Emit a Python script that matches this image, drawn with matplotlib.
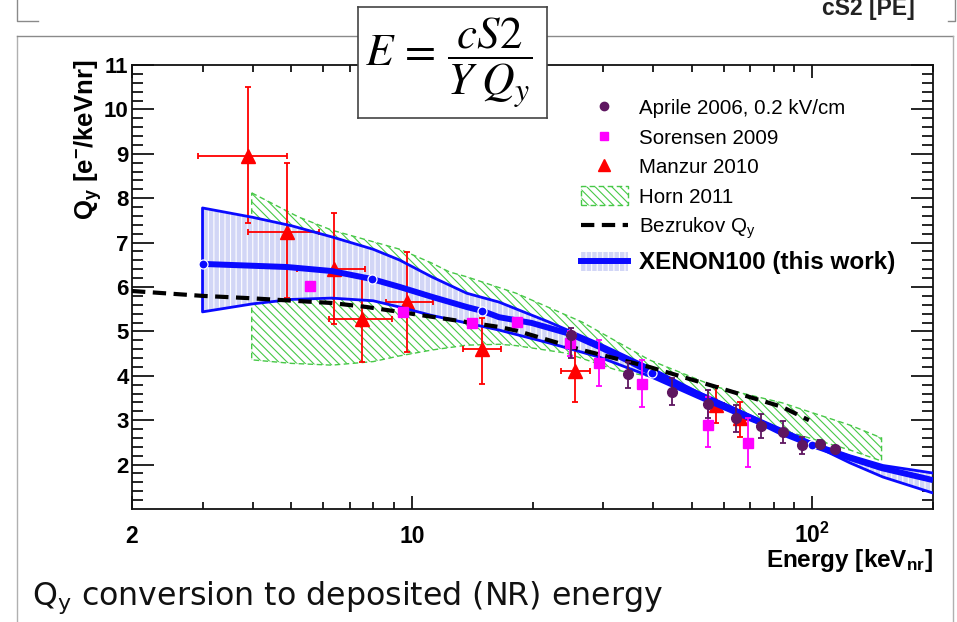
import numpy as np
import matplotlib
matplotlib.use("Agg")
import matplotlib.pyplot as plt
from matplotlib.lines import Line2D
from matplotlib.patches import Patch
from matplotlib.ticker import FixedLocator, NullFormatter

plt.rcParams['font.family'] = ['Liberation Sans', 'DejaVu Sans']
plt.rcParams['mathtext.fontset'] = 'custom'
plt.rcParams['mathtext.rm'] = 'Liberation Sans'
plt.rcParams['mathtext.bf'] = 'Liberation Sans:bold'
plt.rcParams['mathtext.it'] = 'Liberation Sans:italic'
plt.rcParams['hatch.linewidth'] = 0.8

# ---------------- data ----------------
# Aprile 2006, 0.2 kV/cm
aprile_E = [24.9, 34.7, 44.7, 54.7, 64.6, 74.6, 84.6, 94.4, 104.7, 114.0]
aprile_Q = [4.92, 4.04, 3.64, 3.36, 3.05, 2.87, 2.73, 2.44, 2.46, 2.35]
aprile_lo = [4.40, 3.72, 3.34, 3.05, 2.73, 2.60, 2.49, 2.24, 2.38, 2.29]
aprile_hi = [5.08, 4.31, 3.95, 3.68, 3.34, 3.14, 2.98, 2.62, 2.55, 2.41]

# Sorensen 2009
sor_E = [5.56, 9.48, 14.1, 18.3, 24.8, 29.3, 37.6, 54.7, 69.2]
sor_Q = [6.02, 5.44, 5.19, 5.21, 4.74, 4.29, 3.82, 2.89, 2.49]
sor_lo = [6.02, 5.44, 5.19, 5.21, 4.45, 3.77, 3.30, 2.40, 1.95]
sor_hi = [6.02, 5.44, 5.19, 5.21, 5.00, 4.81, 4.36, 3.52, 3.05]

# Manzur 2010
man_E = [3.89, 4.87, 6.38, 7.51, 9.70, 15.0, 25.5, 57.5, 66.1]
man_Q = [8.95, 7.24, 6.41, 5.28, 5.66, 4.60, 4.11, 3.34, 3.05]
man_Elo = [2.93, 3.89, 5.15, 6.22, 8.60, 13.4, 23.6, 54.4, 64.6]
man_Ehi = [4.87, 5.86, 7.62, 8.90, 11.3, 16.7, 27.9, 60.3, 68.4]
man_lo = [7.44, 5.75, 5.17, 4.31, 4.54, 3.82, 3.41, 2.94, 2.62]
man_hi = [10.50, 8.79, 7.67, 6.25, 6.78, 5.30, 4.83, 3.77, 3.41]

# Horn 2011 band
horn_up_E = [3.98, 5.2, 6.31, 9.33, 11.2, 12.4, 13.7, 18.2, 26.6, 39.1, 57.5, 84.1, 124.0, 148.8]
horn_up_Q = [8.12, 7.58, 7.28, 6.85, 6.54, 6.34, 6.23, 5.86, 5.21, 4.36, 3.75, 3.39, 2.89, 2.60]
horn_lo_E = [3.98, 5.0, 6.31, 8.0, 9.33, 11.2, 13.7, 16.5, 18.2, 24.3, 32.4, 43.2, 57.5, 84.1, 124.0, 148.8]
horn_lo_Q = [4.36, 4.28, 4.24, 4.32, 4.45, 4.58, 4.69, 4.71, 4.68, 4.51, 4.13, 3.91, 3.39, 2.78, 2.33, 2.08]

# Bezrukov Qy
bez_E = [2.0, 3.0, 3.9, 6.3, 7.7, 9.3, 11.2, 13.7, 16.5, 18.2, 26.6, 39.1, 57.5, 84.0, 98.0]
bez_Q = [5.91, 5.80, 5.75, 5.64, 5.55, 5.44, 5.33, 5.21, 5.10, 5.02, 4.58, 4.20, 3.75, 3.30, 3.00]

# XENON100 (this work)
xe_E = [3.0, 4.88, 6.3, 7.94, 9.33, 11.2, 13.7, 15.0, 16.5, 19.9, 24.9, 29.4, 34.3, 39.8,
        47.3, 57.5, 69.7, 84.1, 100.0, 124.0, 149.0, 200.0]
xe_Q = [6.52, 6.45, 6.36, 6.18, 6.00, 5.78, 5.55, 5.46, 5.32, 5.19, 4.94, 4.65, 4.36, 4.06,
        3.75, 3.41, 3.07, 2.71, 2.44, 2.15, 1.92, 1.65]
xe_knot_E = [3.0, 7.94, 15.0, 24.9, 39.8, 100.0]
xe_knot_Q = [6.52, 6.18, 5.46, 4.94, 4.06, 2.44]
xe_band_E = [3.0, 4.0, 5.0, 6.3, 8.0, 9.3, 11.2, 13.7, 16.5, 22.0, 29.4, 39.0, 52.0, 70.0,
             100.0, 124.0, 150.0, 200.0]
xe_band_hi = [7.78, 7.57, 7.38, 7.13, 6.85, 6.61, 6.23, 5.86, 5.66, 5.21, 4.72, 4.20, 3.62,
              3.10, 2.49, 2.20, 1.98, 1.81]
xe_band_lo = [5.44, 5.62, 5.72, 5.75, 5.69, 5.55, 5.36, 5.19, 5.03, 4.74, 4.42, 4.00, 3.50,
              3.00, 2.45, 2.04, 1.72, 1.36]

x_ticks = [2, 10, 100]
x_ticklabels = ['2', '10', r'$\mathbf{10^{2}}$']
y_ticks = [2, 3, 4, 5, 6, 7, 8, 9, 10, 11]

labels = ['Aprile 2006, 0.2 kV/cm', 'Sorensen 2009', 'Manzur 2010', 'Horn 2011',
          r'Bezrukov Q$_\mathregular{y}$', 'XENON100 (this work)']

# ---------------- colours ----------------
C_APR = '#5e1660'
C_SOR = '#ff00ff'
C_MAN = '#ff0000'
C_HORN = '#47c847'
C_XE = '#0a0aff'
C_BAND = '#d2d6f6'

W, H = 957, 622
fig = plt.figure(figsize=(W / 100, H / 100), dpi=100)


def fx(px):
    return px / W


def fy(py):
    return 1 - py / H


# slide frames
frame_col = '#8a8a8a'
for xs, ys, c in [([17, 17, 38], [0, 21, 21], frame_col),
                  ([948, 955, 955], [21, 21, 0], frame_col),
                  ([17, 17], [622, 36], '#b0b0b0'),
                  ([17, 953], [36, 36], frame_col),
                  ([953, 953], [36, 622], '#b0b0b0')]:
    fig.add_artist(Line2D([fx(v) for v in xs], [fy(v) for v in ys], color=c, lw=1.0,
                          transform=fig.transFigure))

fig.text(fx(915), fy(15.5), 'cS2 [PE]', ha='right', va='baseline', fontsize=16.5,
         fontweight='bold', color='#222222')

ax = fig.add_axes([fx(132), fy(509), (933 - 132) / W, (509 - 65) / H])
ax.set_xscale('log')
ax.set_xlim(2, 200)
ax.set_ylim(1, 11)

# Horn 2011
horn_x = list(horn_up_E) + list(horn_lo_E[::-1])
horn_y = list(horn_up_Q) + list(horn_lo_Q[::-1])
ax.fill(horn_x, horn_y, facecolor='none', edgecolor=C_HORN, hatch='\\\\\\\\', lw=1.0,
        ls=(0, (4, 2.5)), zorder=1)

# XENON100 band
ax.fill_between(xe_band_E, xe_band_lo, xe_band_hi, facecolor=C_BAND, edgecolor='none', zorder=2)
ax.fill_between(xe_band_E, xe_band_lo, xe_band_hi, facecolor='none', edgecolor='white',
                hatch='|||', lw=0, zorder=2.1)

# Manzur
man_E_a = np.array(man_E)
man_Q_a = np.array(man_Q)
ax.errorbar(man_E_a, man_Q_a,
            xerr=[man_E_a - np.array(man_Elo), np.array(man_Ehi) - man_E_a],
            yerr=[man_Q_a - np.array(man_lo), np.array(man_hi) - man_Q_a],
            fmt='^', color=C_MAN, ms=10, capsize=2.5, elinewidth=1.3, capthick=1.3, zorder=3)

# XENON100 lines
band_x = list(xe_band_E[::-1]) + list(xe_band_E)
band_y = list(xe_band_lo[::-1]) + list(xe_band_hi)
ax.plot(band_x, band_y, color=C_XE, lw=2.0, zorder=4)
ax.plot(xe_E, xe_Q, color=C_XE, lw=4.3, zorder=4.1, solid_capstyle='butt')
ax.plot(xe_knot_E, xe_knot_Q, 'o', color=C_XE, ms=6.5, mec='white', mew=0.9, zorder=4.2)

# Bezrukov
ax.plot(bez_E, bez_Q, color='black', lw=3.0, ls=(0, (3.2, 1.8)), zorder=5)

# Sorensen
sor_E_a = np.array(sor_E)
sor_Q_a = np.array(sor_Q)
ax.errorbar(sor_E_a, sor_Q_a, yerr=[sor_Q_a - np.array(sor_lo), np.array(sor_hi) - sor_Q_a],
            fmt='s', color=C_SOR, ms=7, capsize=2.0, elinewidth=1.3, capthick=1.3, zorder=6)

# Aprile
apr_E_a = np.array(aprile_E)
apr_Q_a = np.array(aprile_Q)
ax.errorbar(apr_E_a, apr_Q_a, yerr=[apr_Q_a - np.array(aprile_lo), np.array(aprile_hi) - apr_Q_a],
            fmt='o', color=C_APR, ms=7, capsize=2.0, elinewidth=1.3, capthick=1.3, zorder=7)

# axes styling
for s in ax.spines.values():
    s.set_linewidth(1.3)
    s.set_color('#111111')
ax.xaxis.set_major_locator(FixedLocator(x_ticks))
ax.set_xticklabels(x_ticklabels)
minor_x = [v * d for d in (1, 10) for v in range(2, 10)] + [200]
ax.xaxis.set_minor_locator(FixedLocator(minor_x))
ax.xaxis.set_minor_formatter(NullFormatter())
ax.set_yticks(y_ticks)
ax.yaxis.set_minor_locator(FixedLocator(list(np.round(np.arange(1.2, 11.0, 0.2), 1))))
ax.tick_params(axis='x', which='major', direction='in', length=9.5, width=1.2, top=True,
               pad=24.5, labelsize=16.5)
ax.tick_params(axis='x', which='minor', direction='in', length=5, width=1.2, top=True)
ax.tick_params(axis='y', which='major', direction='in', length=16, width=1.2, right=True,
               pad=2.5, labelsize=16)
ax.tick_params(axis='y', which='minor', direction='in', length=8, width=1.2, right=True)
for t in ax.get_xticklabels() + ax.get_yticklabels():
    t.set_fontweight('bold')
for t in ax.get_xticklabels():
    t.set_verticalalignment('baseline')

fig.text(fx(88), fy(60), r'$\mathbf{Q_{y}\ [e^{-}/keVnr]}$', rotation=90, ha='center',
         va='top', fontsize=18.5)
fig.text(fx(933), fy(560), r'$\mathbf{Energy\ [keV_{nr}]}$', ha='right', va='center',
         fontsize=17.5)

# legend
h_apr = Line2D([], [], marker='o', color=C_APR, ls='none', ms=6)
h_sor = Line2D([], [], marker='s', color=C_SOR, ls='none', ms=6)
h_man = Line2D([], [], marker='^', color=C_MAN, ls='none', ms=9)
h_horn = Patch(facecolor='none', edgecolor=C_HORN, hatch='\\\\\\\\', ls=(0, (4, 2.5)), lw=1.0)
h_bez = Line2D([], [], color='black', lw=3.0, ls=(0, (3.2, 1.8)))
h_xe = (Patch(facecolor=C_BAND, edgecolor='white', hatch='|||', lw=0),
        Line2D([], [], color=C_XE, lw=4.3))
leg = ax.legend([h_apr, h_sor, h_man, h_horn, h_bez, h_xe], labels,
                loc='upper left', bbox_to_anchor=((581 - 132) / 801, (509 - 98) / 444),
                frameon=False, fontsize=14.8, handlelength=2.28, handleheight=1.0,
                handletextpad=0.53, labelspacing=0.45, borderaxespad=0, borderpad=0)
leg.get_texts()[-1].set_fontweight('bold')
leg.get_texts()[-1].set_fontsize(17.5)
leg.set_zorder(10)

# formula box
ax2 = fig.add_axes([fx(358), fy(118), (547 - 358) / W, (118 - 7) / H])
ax2.set_zorder(20)
ax2.set_xticks([])
ax2.set_yticks([])
ax2.set_facecolor('white')
for s in ax2.spines.values():
    s.set_color('#444444')
    s.set_linewidth(1.2)
ax2.text(0.48, 0.5, r'$E\,=\,\dfrac{cS2}{Y\;Q_y}$', ha='center', va='center', fontsize=32.5,
         math_fontfamily='stix', transform=ax2.transAxes)

# caption
fig.text(fx(32), fy(605), r'Q$_\mathregular{y}$ conversion to deposited (NR) energy',
         family='DejaVu Sans', fontsize=22.8, va='baseline', color='#111111')

fig.savefig('out.png', dpi=100)
